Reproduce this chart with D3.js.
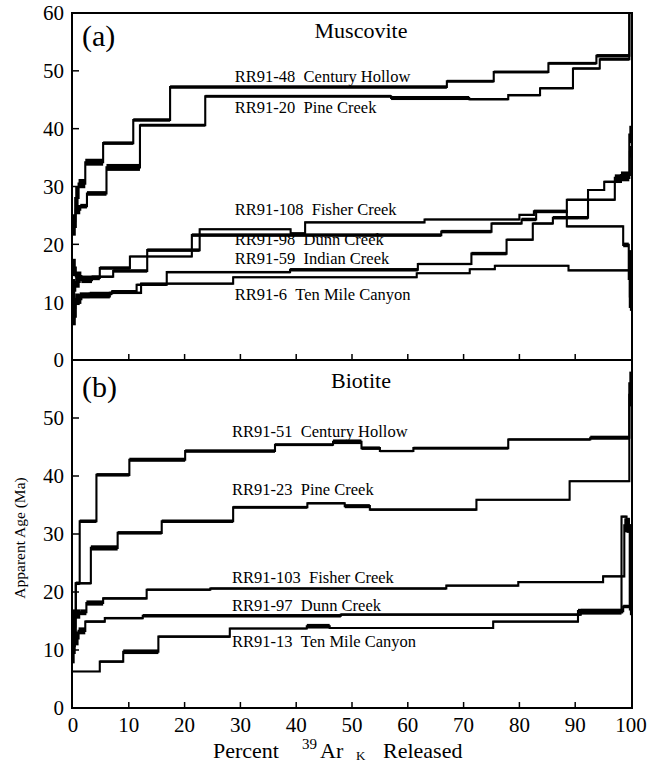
<!DOCTYPE html>
<html>
<head>
<meta charset="utf-8">
<script src="https://cdn.jsdelivr.net/npm/d3@7"></script>
<style>
  body { margin: 0; background: #fff; }
  text { font-family: "Liberation Serif", "Times New Roman", serif; fill: #000; }
</style>
</head>
<body>
<svg id="chart" width="653" height="762"></svg>
<script>
// step spectra: [cumulative % 39ArK released at end of step, apparent age (Ma), half error (Ma)]
// (a) muscovite
const mus48 = [[0.4, 24, 1.2], [1.0, 28, 2], [2.2, 30.5, 0.8], [5.4, 34.2, 0.6], [10.8, 37.5, 0.3],
  [17.4, 41.5, 0.3], [67, 47.2, 0.3], [75.4, 48.2, 0.25], [85.2, 49.8, 0.25], [93.8, 51.3, 0.25],
  [99.7, 52.6, 0.3], [100, 62, 0]];
const mus20 = [[0.5, 23, 1.5], [1.3, 26, 0.8], [2.5, 26.6, 0.4], [6.0, 28.8, 0.4], [12.0, 33.3, 0.6],
  [23.7, 40.6, 0.25], [57, 45.6, 0.25], [71, 45.3, 0.35], [78, 45.1, 0.2], [83.7, 45.8, 0.2],
  [89.6, 47.0, 0.2], [94.4, 50.4, 0.2], [99.7, 52.0, 0.25], [100, 62, 0]];
const mus108 = [[0.5, 16, 1.5], [1.5, 14.5, 0.8], [3.4, 13.8, 0.5], [7.2, 14.4, 0.2], [13.3, 15.4, 0.3],
  [22.7, 19.0, 0.3], [39, 22.6, 0.15], [41.6, 21.9, 0.15], [63, 23.8, 0.15], [80, 24.3, 0.15],
  [82.6, 25.1, 0.15], [88.5, 25.7, 0.3], [98.6, 23.1, 0.15], [99.6, 19.9, 0.4], [100, 14, 5]];
const mus98 = [[0.4, 12, 2], [1.2, 13.5, 1], [4.8, 14.2, 0.4], [10.2, 15.9, 0.3], [21.3, 17.9, 0.15],
  [66, 21.6, 0.3], [75, 22.2, 0.3], [80.4, 23.6, 0.2], [83, 24.3, 0.3], [88.5, 25.6, 0.2],
  [97.1, 27.7, 0.2], [99.7, 31.5, 0.6], [100, 39, 1.5]];
const mus59 = [[0.4, 9, 2], [1.2, 10.5, 1], [3.0, 11.2, 0.5], [7.0, 11.5, 0.3], [11.4, 11.9, 0.2],
  [16.8, 13.0, 0.2], [38.9, 15.2, 0.2], [61.8, 15.6, 0.3], [71.4, 16.6, 0.2], [77.7, 18.4, 0.3],
  [82.4, 20.8, 0.2], [86, 23.6, 0.2], [92.3, 24.6, 0.3], [95.2, 29.4, 0.15], [98.2, 30.8, 0.2],
  [99.8, 32, 0.6], [100, 36, 1]];
const mus6 = [[0.5, 7.5, 1.5], [1.5, 10.5, 0.8], [6.6, 11.0, 0.35], [12.2, 11.6, 0.2], [28.7, 13.2, 0.15],
  [61.6, 14.3, 0.15], [71.1, 15.0, 0.15], [75.6, 15.7, 0.15], [88.8, 16.3, 0.15], [99.8, 15.5, 0.15],
  [100, 11, 2.5]];

// (b) biotite
const bio51 = [[0.5, 16, 1], [1.2, 21.5, 0.3], [4.2, 32.2, 0.3], [10.1, 40.2, 0.3], [20.1, 42.8, 0.35],
  [36.2, 44.3, 0.3], [46.6, 45.4, 0.25], [51.7, 45.9, 0.4], [55, 44.8, 0.3], [61, 44.3, 0.2],
  [78, 44.8, 0.25], [92.7, 46.3, 0.2], [99.7, 46.6, 0.35], [100, 56, 2]];
const bio23 = [[0.5, 12, 1.5], [3.2, 21.5, 0.2], [8.0, 27.6, 0.45], [15.9, 30.2, 0.3], [28.7, 32.2, 0.3],
  [42, 34.6, 0.25], [48.7, 35.3, 0.2], [53.2, 34.8, 0.35], [72.3, 34.2, 0.2], [89, 35.9, 0.15],
  [99.7, 39.1, 0.15], [100, 54, 2]];
const bio103 = [[0.4, 14, 2], [1.3, 16.2, 0.8], [2.4, 16.5, 0.5], [5.4, 18.1, 0.45], [13.2, 18.9, 0.2],
  [24.6, 20.4, 0.2], [66.9, 20.6, 0.2], [79.8, 21.1, 0.15], [95, 21.7, 0.15], [98.8, 22.7, 0.15],
  [99.8, 31.5, 1.2], [100, 18, 1]];
const bio97 = [[0.3, 9.5, 1.8], [1.0, 12, 1.2], [2.2, 13.3, 0.6], [5.7, 14.9, 0.2], [12.5, 15.5, 0.2],
  [48, 15.9, 0.3], [91, 16.1, 0.2], [98.3, 16.6, 0.5], [99.2, 33, 0.15], [99.8, 31.5, 1.3], [100, 17, 1]];
const bio13 = [[4.8, 6.3, 0.1], [9.0, 8.0, 0.2], [15.3, 9.7, 0.4], [28.1, 12.3, 0.2], [41.9, 13.7, 0.15],
  [46, 14.1, 0.4], [75.3, 13.8, 0.15], [90.5, 14.9, 0.15], [98.6, 16.7, 0.4], [100, 17.5, 0.3]];

const musNames = ["RR91-48  Century Hollow", "RR91-20  Pine Creek", "RR91-108  Fisher Creek",
  "RR91-98  Dunn Creek", "RR91-59  Indian Creek", "RR91-6  Ten Mile Canyon"];
const bioNames = ["RR91-51  Century Hollow", "RR91-23  Pine Creek", "RR91-103  Fisher Creek",
  "RR91-97  Dunn Creek", "RR91-13  Ten Mile Canyon"];

const xTicks = [0, 10, 20, 30, 40, 50, 60, 70, 80, 90, 100];
const yTicksA = [0, 10, 20, 30, 40, 50, 60];
const yTicksB = [0, 10, 20, 30, 40, 50];

// layout
const left = 73, right = 631;
const svg = d3.select('#chart');

const x = d3.scaleLinear().domain([0, 100]).range([left, right]);
const yA = d3.scaleLinear().domain([0, 60]).range([360, 13]);
const yB = d3.scaleLinear().domain([0, 60]).range([708, 360]);

const line = d3.line();

function drawSpectrum(g, steps, y) {
  let start = 0;
  const pts = [];
  steps.forEach(([end, age, err]) => {
    pts.push([x(start), y(age)], [x(end), y(age)]);
    if (err > 0) {
      g.append('rect')
        .attr('x', x(start))
        .attr('width', x(end) - x(start))
        .attr('y', y(age + err))
        .attr('height', y(age - err) - y(age + err))
        .attr('fill', '#000');
    }
    start = end;
  });
  g.append('path')
    .datum(pts)
    .attr('d', line)
    .attr('fill', 'none')
    .attr('stroke', '#000')
    .attr('stroke-width', 2.1);
}

function panel(id, y, ticks, series, names, labelAges, labelPct, title, tag, titleY, tagY) {
  const [y0, y1] = y.range();
  svg.append('clipPath').attr('id', id)
    .append('rect').attr('x', left).attr('y', y1).attr('width', right - left).attr('height', y0 - y1);

  const g = svg.append('g').attr('clip-path', `url(#${id})`);
  series.forEach(s => drawSpectrum(g, s, y));

  // inward ticks
  svg.append('g').selectAll('line.yt')
    .data(ticks).enter().append('line')
      .attr('x1', left).attr('x2', left + 6)
      .attr('y1', d => y(d)).attr('y2', d => y(d))
      .attr('stroke', '#000').attr('stroke-width', 1.5);
  svg.append('g').selectAll('line.xt')
    .data(xTicks.slice(1, -1)).enter().append('line')
      .attr('x1', d => x(d)).attr('x2', d => x(d))
      .attr('y1', y0).attr('y2', y0 - 6)
      .attr('stroke', '#000').attr('stroke-width', 1.5);

  svg.append('g').selectAll('text.yl')
    .data(ticks).enter().append('text')
      .attr('x', 64).attr('y', d => y(d))
      .attr('dy', '0.35em')
      .attr('text-anchor', 'end')
      .style('font-size', '21px')
      .text(d => d);

  svg.append('g').selectAll('text.lab')
    .data(names).enter().append('text')
      .attr('x', x(labelPct))
      .attr('y', (d, i) => y(labelAges[i]))
      .style('font-size', '16.5px')
      .text(d => d.replace('  ', '\u00a0\u00a0'));

  svg.append('text').attr('x', 361).attr('y', titleY)
    .attr('text-anchor', 'middle').style('font-size', '22px').text(title);
  svg.append('text').attr('x', 82).attr('y', tagY)
    .style('font-size', '30px').text(tag);
}

panel('clipA', yA, yTicksA, [mus48, mus20, mus108, mus98, mus59, mus6], musNames,
  [48.1, 42.7, 25.0, 19.9, 16.6, 10.4], 29, 'Muscovite', '(a)', 38, 46);
panel('clipB', yB, yTicksB, [bio51, bio23, bio103, bio97, bio13], bioNames,
  [46.8, 36.8, 21.5, 16.8, 10.6], 28.5, 'Biotite', '(b)', 388, 397);

// frame
svg.append('rect')
  .attr('x', left - 1).attr('y', 13)
  .attr('width', right - left + 2).attr('height', 708 - 13)
  .attr('fill', 'none').attr('stroke', '#000').attr('stroke-width', 2);
svg.append('line')
  .attr('x1', left - 1).attr('x2', right + 1).attr('y1', 360).attr('y2', 360)
  .attr('stroke', '#000').attr('stroke-width', 2);

// x tick labels
svg.append('g').selectAll('text')
  .data(xTicks).enter().append('text')
    .attr('x', d => x(d)).attr('y', 732)
    .attr('text-anchor', 'middle')
    .style('font-size', '21px')
    .text(d => d);

// axis titles
svg.append('text').attr('x', 213).attr('y', 758).style('font-size', '22px').text('Percent');
svg.append('text').attr('x', 302).attr('y', 749).style('font-size', '15px').text('39');
svg.append('text').attr('x', 320).attr('y', 758).style('font-size', '22px').text('Ar');
svg.append('text').attr('x', 356).attr('y', 760).style('font-size', '13px').text('K');
svg.append('text').attr('x', 383).attr('y', 758).style('font-size', '22px').text('Released');

svg.append('text')
  .attr('transform', 'translate(25, 538) rotate(-90)')
  .attr('text-anchor', 'middle')
  .style('font-size', '15.5px')
  .text('Apparent Age (Ma)');
</script>
</body>
</html>
